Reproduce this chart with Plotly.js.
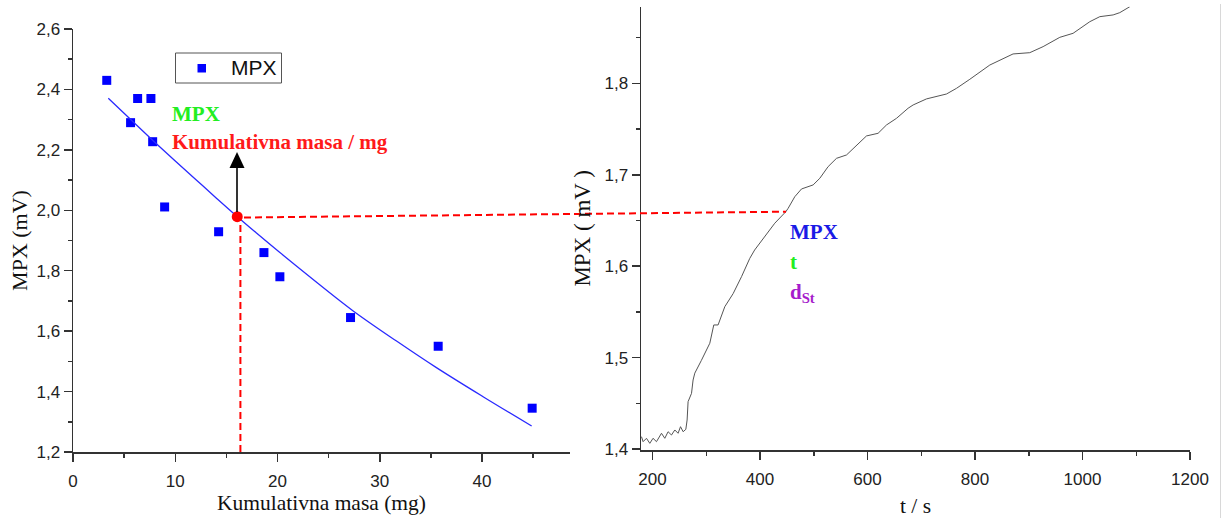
<!DOCTYPE html>
<html>
<head>
<meta charset="utf-8">
<script src="https://cdn.plot.ly/plotly-3.0.1.min.js"></script>
<style>html,body{margin:0;padding:0;background:#fff;}#chart{width:1222px;height:521px;}</style>
</head>
<body>
<div id="chart"></div>
<script>
// Left panel: MPX vs cumulative mass
const massX = [3.3, 5.63, 6.32, 7.62, 7.79, 8.96, 14.24, 18.67, 20.23, 27.14, 35.71, 44.9];
const mpxY  = [2.43, 2.29, 2.37, 2.37, 2.227, 2.011, 1.929, 1.86, 1.78, 1.645, 1.55, 1.345];
// Fitted curve
const fitX = [3.45, 6, 8, 10, 12, 14, 16.3, 18, 20.2, 24, 27.4, 31.6, 35.5, 40.1, 44.85];
const fitY = [2.371, 2.289, 2.225, 2.163, 2.102, 2.041, 1.972, 1.923, 1.861, 1.757, 1.667, 1.568, 1.480, 1.383, 1.286];
// Marked point
const markX = [16.06];
const markY = [1.979];
// Legend label
const legendName = 'MPX';
// Right panel: MPX vs time
const timeT = [179.5, 182.5, 188.8, 195, 201, 207.4, 216.7, 222.9, 229, 235.3, 241.5, 247.6, 252.1, 257, 262, 264.4, 266.2, 269.4, 272.6, 275.5, 278.7, 291, 306.6, 314, 322, 334.5, 350, 365.6, 381, 390, 409, 427.5, 448, 452.3, 464.7, 477.2, 498.8, 511.3, 526.7, 542.3, 561, 579.5, 598.1, 619.7, 635.3, 654, 675.5, 684.9, 709.7, 747, 765.6, 790.4, 827.6, 870.8, 883.4, 901.9, 926.7, 957.8, 982.5, 1013.6, 1032.2, 1057, 1069.4, 1088];
const timeV = [1.4135, 1.408, 1.4117, 1.4062, 1.4117, 1.408, 1.4172, 1.4117, 1.4189, 1.4153, 1.4208, 1.4172, 1.4244, 1.4189, 1.4215, 1.4317, 1.4518, 1.4572, 1.4609, 1.4755, 1.483, 1.497, 1.5157, 1.5357, 1.5357, 1.5557, 1.570, 1.5885, 1.6086, 1.6177, 1.6323, 1.647, 1.6596, 1.6633, 1.676, 1.6845, 1.6889, 1.6962, 1.7089, 1.718, 1.7217, 1.7326, 1.7425, 1.7454, 1.7545, 1.7618, 1.7728, 1.7764, 1.783, 1.7884, 1.7946, 1.8045, 1.8201, 1.8322, 1.8329, 1.8336, 1.8402, 1.8504, 1.8548, 1.8675, 1.873, 1.8749, 1.8774, 1.8839];

const W = 1222, H = 521;
const px = v => v / W;
const py = v => 1 - v / H;

const tickFont = {family: 'Liberation Sans, Arial, sans-serif', size: 17, color: '#222'};
const serif = 'Liberation Serif, Times New Roman, serif';
const axisBase = {
  showline: true, linecolor: '#333', linewidth: 1.5,
  ticks: 'outside', ticklen: 8, tickwidth: 1.5, tickcolor: '#333',
  showgrid: false, zeroline: false, automargin: false,
  tickfont: tickFont, fixedrange: true
};
const minorBase = {ticks: 'outside', ticklen: 4, tickwidth: 1.5, tickcolor: '#333', showgrid: false};

const traces = [
  {x: massX, y: mpxY, type: 'scatter', mode: 'markers', name: legendName, showlegend: false,
   marker: {symbol: 'square', size: 9, color: '#0000ff'}, xaxis: 'x', yaxis: 'y'},
  {x: fitX, y: fitY, type: 'scatter', mode: 'lines', showlegend: false,
   line: {color: '#2a2aff', width: 1.3, shape: 'spline'}, xaxis: 'x', yaxis: 'y'},
  {x: markX, y: markY, type: 'scatter', mode: 'markers', showlegend: false,
   marker: {symbol: 'circle', size: 11, color: '#ff0000'}, xaxis: 'x', yaxis: 'y'},
  {x: timeT, y: timeV, type: 'scatter', mode: 'lines', showlegend: false,
   line: {color: '#555', width: 1}, xaxis: 'x2', yaxis: 'y2'}
];

const boldSerif = (color) => ({family: serif, size: 21, color: color, weight: 'bold'});

// arrow head triangle (paper coords)
const headPath = 'M ' + px(229.5) + ' ' + py(168) + ' L ' + px(244.5) + ' ' + py(168) +
                 ' L ' + px(237) + ' ' + py(152) + ' Z';

const layout = {
  width: W, height: H,
  margin: {l: 0, r: 0, t: 0, b: 0},
  paper_bgcolor: '#fff', plot_bgcolor: 'rgba(0,0,0,0)',
  separators: ',.',
  showlegend: false,
  xaxis: Object.assign({}, axisBase, {
    domain: [px(73), px(570)], range: [0, 48.6], anchor: 'y',
    tick0: 0, dtick: 10, ticklabelstandoff: 5,
    minor: Object.assign({dtick: 5}, minorBase),
    title: {text: 'Kumulativna masa (mg)', font: {family: serif, size: 21.5, color: '#111'}, standoff: 2}
  }),
  yaxis: Object.assign({}, axisBase, {
    domain: [py(452), py(29)], range: [1.2, 2.6], anchor: 'x',
    tick0: 0, dtick: 0.2, tickformat: '.1f',
    minor: Object.assign({dtick: 0.1}, minorBase),
    title: {text: 'MPX (mV)', font: {family: serif, size: 22, color: '#111'}, standoff: 3}
  }),
  xaxis2: Object.assign({}, axisBase, {
    domain: [px(641), px(1190)], range: [178.6, 1200], anchor: 'y2',
    tick0: 0, dtick: 200, ticklabelstandoff: 5,
    minor: Object.assign({dtick: 100}, minorBase),
    title: {text: 't / s', font: {family: serif, size: 21.5, color: '#111'}, standoff: 10}
  }),
  yaxis2: Object.assign({}, axisBase, {
    domain: [py(450), py(6.7)], range: [1.3989, 1.8839], anchor: 'x2',
    tick0: 0, dtick: 0.1, tickformat: '.1f',
    minor: Object.assign({dtick: 0.05}, minorBase),
    title: {text: 'MPX ( mV )', font: {family: serif, size: 23, color: '#111'}, standoff: 7}
  }),
  shapes: [
    {type: 'line', xref: 'x', yref: 'y', x0: 16.37, x1: 16.37, y0: 1.2, y1: 1.972,
     line: {color: '#ff0000', width: 2, dash: '7px,4px'}},
    {type: 'line', xref: 'paper', yref: 'paper', x0: px(244), y0: py(217.5), x1: px(786), y1: py(211.7),
     line: {color: '#ff0000', width: 2, dash: '7px,4px'}},
    {type: 'line', xref: 'paper', yref: 'paper', x0: px(1220.5), x1: px(1220.5), y0: py(518), y1: py(4),
     line: {color: '#d8d8d8', width: 1}},
    // black arrow above the marked point
    {type: 'line', xref: 'paper', yref: 'paper', x0: px(237), x1: px(237), y0: py(212), y1: py(167),
     line: {color: '#000', width: 1.6}},
    {type: 'path', xref: 'paper', yref: 'paper', path: headPath,
     line: {width: 0}, fillcolor: '#000'},
    // legend box and symbol
    {type: 'rect', xref: 'paper', yref: 'paper', x0: px(175.5), x1: px(281.5), y0: py(83), y1: py(53),
     line: {color: '#555', width: 1}, fillcolor: 'rgba(255,255,255,1)', layer: 'below'},
    {type: 'rect', xref: 'paper', yref: 'paper', x0: px(197.5), x1: px(206), y0: py(72.5), y1: py(64),
     line: {width: 0}, fillcolor: '#0000ff'}
  ],
  annotations: [
    {xref: 'paper', yref: 'paper', x: px(229), y: py(68), xanchor: 'left', yanchor: 'middle',
     text: legendName, showarrow: false, font: {family: 'Liberation Sans, Arial, sans-serif', size: 21, color: '#111'}},
    {xref: 'paper', yref: 'paper', x: px(170), y: py(114), xanchor: 'left', yanchor: 'middle',
     text: 'MPX', showarrow: false, font: boldSerif('#22ee22')},
    {xref: 'paper', yref: 'paper', x: px(170), y: py(142), xanchor: 'left', yanchor: 'middle',
     text: 'Kumulativna masa / mg', showarrow: false, font: boldSerif('#ff1a1a')},
    {xref: 'paper', yref: 'paper', x: px(788), y: py(232), xanchor: 'left', yanchor: 'middle',
     text: 'MPX', showarrow: false, font: boldSerif('#1a1ae6')},
    {xref: 'paper', yref: 'paper', x: px(788), y: py(262), xanchor: 'left', yanchor: 'middle',
     text: 't', showarrow: false, font: boldSerif('#22ee22')},
    {xref: 'paper', yref: 'paper', x: px(788), y: py(293), xanchor: 'left', yanchor: 'middle',
     text: 'd<sub>St</sub>', showarrow: false, font: boldSerif('#a61ccc')}
  ]
};

Plotly.newPlot('chart', traces, layout, {staticPlot: true, displayModeBar: false});
</script>
</body>
</html>
